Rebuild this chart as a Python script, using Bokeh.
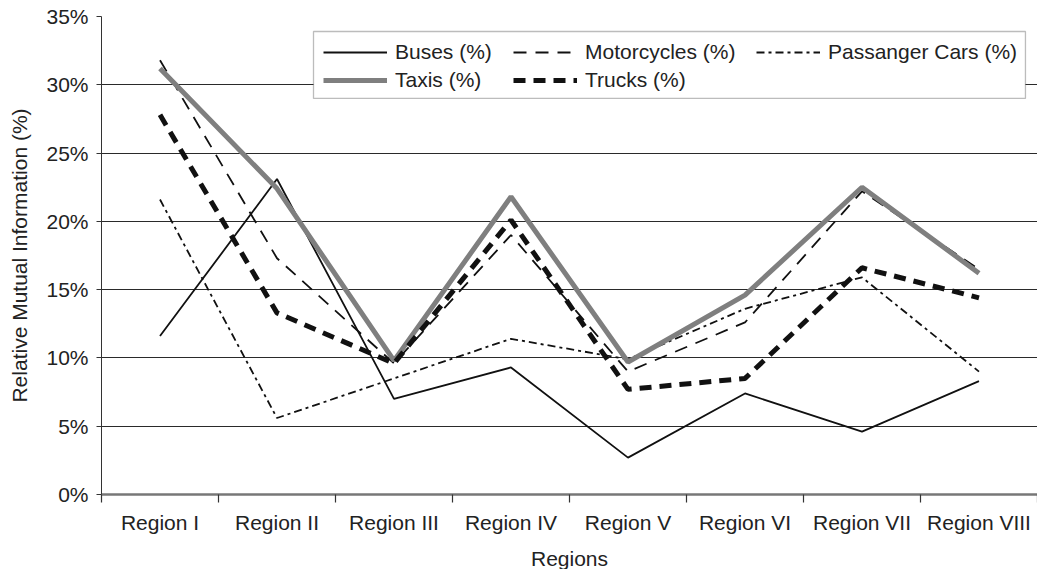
from bokeh.plotting import figure
from bokeh.models import FixedTicker, NumeralTickFormatter, Range1d, Legend, LegendItem, BoxAnnotation
from bokeh.embed import file_html
from bokeh.resources import INLINE

regions = ["Region I", "Region II", "Region III", "Region IV", "Region V", "Region VI", "Region VII", "Region VIII"]
buses = [11.6, 23.1, 7.0, 9.3, 2.7, 7.4, 4.6, 8.3]
motorcycles = [31.8, 17.3, 9.6, 19.0, 9.0, 12.6, 22.2, 16.5]
passenger_cars = [21.6, 5.6, 8.5, 11.4, 9.9, 13.6, 15.9, 9.0]
taxis = [31.2, 22.4, 9.8, 21.8, 9.7, 14.6, 22.5, 16.2]
trucks = [27.8, 13.3, 9.6, 20.1, 7.7, 8.5, 16.6, 14.4]
y_ticks = [0, 5, 10, 15, 20, 25, 30, 35]

FONT = "Liberation Sans"
FS = "21px"
TXT = "#222222"
xs = [i + 0.5 for i in range(len(regions))]
frac = lambda arr: [v / 100.0 for v in arr]

p = figure(output_backend="svg", toolbar_location=None,
           width=1037, height=569,
           x_range=Range1d(0, len(regions)), y_range=Range1d(0, 0.35))
p.min_border_left = 101
p.min_border_right = 0
p.min_border_top = 16
p.min_border_bottom = 75
p.frame_width = 936
p.frame_height = 478
p.outline_line_color = None
p.background_fill_color = "white"
p.border_fill_color = "white"

# grid
p.xgrid.visible = False
p.ygrid.ticker = FixedTicker(ticks=[t / 100.0 for t in y_ticks])
p.ygrid.grid_line_color = "#2a2a2a"
p.ygrid.grid_line_width = 1.2

# y axis
p.yaxis.ticker = FixedTicker(ticks=[t / 100.0 for t in y_ticks])
p.yaxis.formatter = NumeralTickFormatter(format="0%")
p.yaxis.axis_label = "Relative Mutual Information (%)"
p.yaxis.axis_label_text_font = FONT
p.yaxis.axis_label_text_font_size = FS
p.yaxis.axis_label_text_font_style = "normal"
p.yaxis.axis_label_text_color = TXT
p.yaxis.major_label_text_font = FONT
p.yaxis.major_label_text_font_size = FS
p.yaxis.major_label_text_color = TXT
p.yaxis.major_tick_out = 5
p.yaxis.major_tick_in = 0
p.yaxis.minor_tick_line_color = None
p.yaxis.axis_line_color = "#333333"
p.yaxis.major_tick_line_color = "#333333"
p.yaxis.major_label_standoff = 8
p.yaxis.axis_label_standoff = 12

# x axis
p.xaxis.ticker = FixedTicker(ticks=xs, minor_ticks=list(range(len(regions) + 1)))
p.xaxis.major_label_overrides = {x: r for x, r in zip(xs, regions)}
p.xaxis.axis_label = "Regions"
p.xaxis.axis_label_text_font = FONT
p.xaxis.axis_label_text_font_size = FS
p.xaxis.axis_label_text_font_style = "normal"
p.xaxis.axis_label_text_color = TXT
p.xaxis.major_label_text_font = FONT
p.xaxis.major_label_text_font_size = FS
p.xaxis.major_label_text_color = TXT
p.xaxis.major_tick_out = 0
p.xaxis.major_tick_in = 0
p.xaxis.minor_tick_out = 8
p.xaxis.minor_tick_in = 0
p.xaxis.minor_tick_line_color = "#333333"
p.xaxis.minor_tick_line_width = 1.2
p.xaxis.axis_line_color = "#777777"
p.xaxis.axis_line_width = 2.5
p.xaxis.major_label_standoff = 8
p.xaxis.axis_label_standoff = 10

r_bus = p.line(xs, frac(buses), line_color="#111111", line_width=1.8)
r_moto = p.line(xs, frac(motorcycles), line_color="#111111", line_width=1.8, line_dash="13 9")
r_car = p.line(xs, frac(passenger_cars), line_color="#111111", line_width=1.8, line_dash="8 4 3 4")
r_taxi = p.line(xs, frac(taxis), line_color="#7f7f7f", line_width=5)
r_truck = p.line(xs, frac(trucks), line_color="#111111", line_width=5, line_dash="12 8")

# legend frame
box = BoxAnnotation(left=1.812, right=7.897, top=0.339, bottom=0.29,
                    fill_color="white", fill_alpha=1.0,
                    line_color="#222222", line_width=1.3, level="annotation")
p.add_layout(box)


def make_legend(items, loc):
    lg = Legend(items=items, orientation="vertical", location=loc)
    lg.label_text_font = FONT
    lg.label_text_font_size = FS
    lg.label_text_color = TXT
    lg.glyph_width = 64
    lg.glyph_height = 24
    lg.label_height = 24
    lg.label_standoff = 8
    lg.spacing = 4
    lg.padding = 0
    lg.margin = 0
    lg.border_line_color = None
    lg.background_fill_alpha = 0
    return lg


p.add_layout(make_legend([
    LegendItem(label="Buses (%)", renderers=[r_bus]),
    LegendItem(label="Taxis (%)", renderers=[r_taxi]),
], (222, 402)), "center")
p.add_layout(make_legend([
    LegendItem(label="Motorcycles (%)", renderers=[r_moto]),
    LegendItem(label="Trucks (%)", renderers=[r_truck]),
], (412, 402)), "center")
p.add_layout(make_legend([
    LegendItem(label="Passanger Cars (%)", renderers=[r_car]),
], (655, 430)), "center")

open("out.html", "w").write(file_html(p, INLINE))
